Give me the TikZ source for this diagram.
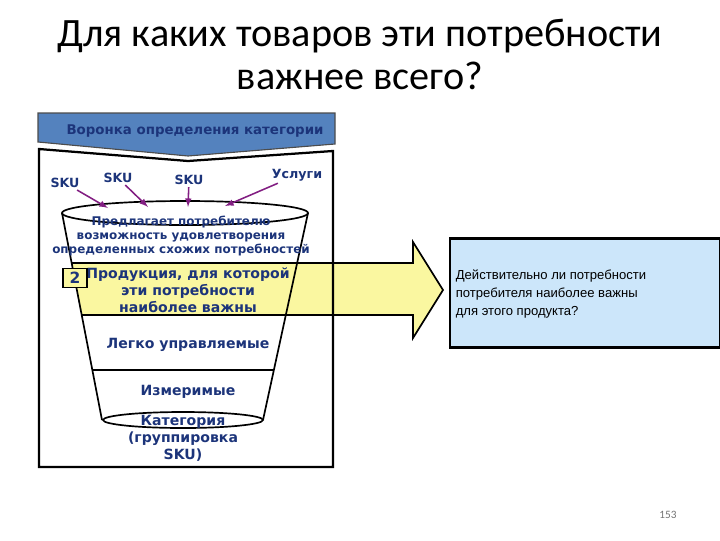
\documentclass[tikz,border=0pt]{standalone}
\usepackage{fontspec}
\setmainfont{Carlito}
\newfontfamily\verd{DejaVu Sans}
\newfontfamily\arl{Liberation Sans}
\usetikzlibrary{arrows}
\definecolor{navy}{RGB}{28,52,122}
\definecolor{banner}{RGB}{84,130,190}
\definecolor{plum}{RGB}{130,30,130}
\definecolor{lemon}{RGB}{250,247,160}
\definecolor{sky}{RGB}{204,230,250}

\begin{document}
\begin{tikzpicture}[x=0.025cm,y=-0.025cm,line width=1.2pt,
    funnel text/.style={font=\verd\bfseries\fontsize{8.5}{10}\selectfont,text=navy,align=center,inner sep=0pt},
    big text/.style={font=\verd\bfseries\fontsize{10}{12.2}\selectfont,text=navy,align=center,inner sep=0pt},
    sku/.style={font=\verd\bfseries\fontsize{9}{10}\selectfont,text=navy,inner sep=1pt},
    sku arrow/.style={-latex,draw=plum,line width=1.1pt}]

	\useasboundingbox (0,0) rectangle (720,540);

	% title
	\node (t1) [anchor=base] at (360,46) {\fontsize{28.6}{30}\selectfont Для каких товаров эти потребности};
	\node (t2) [anchor=base] at (360,89) {\fontsize{28.6}{30}\selectfont важнее всего?};

	% yellow arrow
	\fill[lemon] (72,263) -- (413,263) -- (413,242) -- (443,290) -- (413,338) -- (413,315) -- (82,315) -- cycle;
	\draw (72,263) -- (413,263) -- (413,242) -- (443,290) -- (413,338) -- (413,315) -- (82,315);

	% outer frame and banner
	\draw[line width=1.6pt] (39,149) -- (188,161) -- (333,151) -- (333,467) -- (39,467) -- cycle;
	\filldraw[fill=banner,draw=black!70,line width=0.8pt] (38,113) -- (335,113) -- (335,144) -- (188,156) -- (38,142) -- cycle;
	\node (head) [font=\verd\bfseries\fontsize{9.5}{11}\selectfont,text=navy] at (195,131) {Воронка определения категории};

	% funnel
	\draw (185,213) ellipse [x radius=123,y radius=12];
	\draw (62,213) -- (102,420);
	\draw (308,213) -- (263,420);
	\draw (92,370) -- (274,370);
	\draw (183,420) ellipse [x radius=80,y radius=8];

	% inputs
	\node[sku] (s1) at (65,183) {SKU};
	\node[sku] (s2) at (118,178) {SKU};
	\node[sku] (s3) at (189,180) {SKU};
	\node[sku] (s4) at (297,175) {Услуги};
	\coordinate (e1) at (108,208);
	\coordinate (e2) at (148,207);
	\coordinate (e3) at (188,207);
	\coordinate (e4) at (225,206);
	\draw[sku arrow] (s1) -- (e1);
	\draw[sku arrow] (s2) -- (e2);
	\draw[sku arrow] (s3) -- (e3);
	\draw[sku arrow] (s4) -- (e4);

	% funnel levels
	\node[funnel text] (offer) at (181,236) {Предлагает потребителю\\возможность удовлетворения\\определенных схожих потребностей};
	\node[big text] (prod) at (188,290) {Продукция, для которой\\эти потребности\\наиболее важны};
	\node[draw,fill=lemon,minimum width=0.6cm,minimum height=0.475cm,inner sep=0pt,
	      font=\verd\bfseries\fontsize{11}{12}\selectfont,text=navy] (two) at (75,278) {2};
	\node[big text] (easy) at (188,345) {Легко управляемые};
	\node[big text] (meas) at (188,392) {Измеримые};
	\node[big text] (cat) at (183,438) {Категория\\(группировка\\SKU)};

	% question box
	\node[draw,fill=sky,line width=1.5pt,minimum width=6.75cm,minimum height=2.725cm,inner sep=0pt] (qbox) at (585,293) {};
	\node[anchor=west,align=left,inner sep=0pt,font=\arl\fontsize{9.3}{12.8}\selectfont] (q) at (455,294)
	     {Действительно ли потребности\\потребителя наиболее важны\\для этого продукта?};

	% page number
	\node[text=black!55,font=\fontsize{8}{9}\selectfont] (page) at (668,515) {153};
\end{tikzpicture}
\end{document}
